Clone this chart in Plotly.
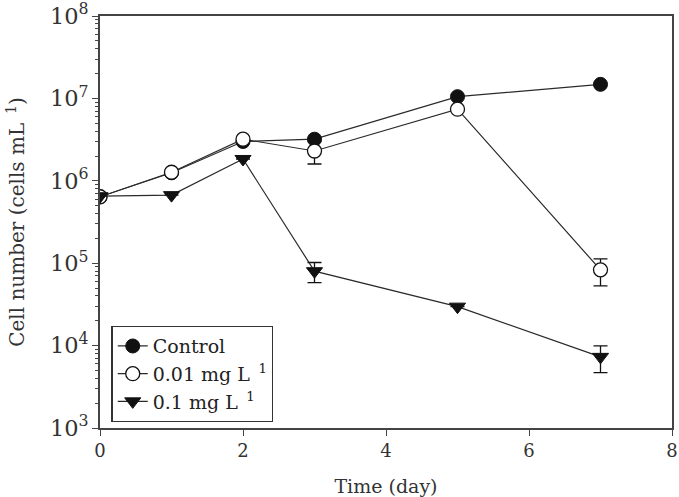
import plotly.graph_objects as go

days = [0, 1, 2, 3, 5, 7]
control = [6.4e5, 1.25e6, 3.0e6, 3.2e6, 1.05e7, 1.48e7]
low_dose = [6.4e5, 1.27e6, 3.2e6, 2.3e6, 7.4e6, 8.3e4]
low_dose_err = [0, 0, 0, 0.7e6, 0, 3.0e4]
high_dose = [6.5e5, 6.7e5, 1.84e6, 8.0e4, 2.97e4, 7.3e3]
high_dose_err = [0, 0, 0, 2.2e4, 0, 2.6e3]

series_names = ["Control", "0.01 mg L<sup>\u00a0\u00a01</sup>", "0.1 mg L<sup>\u00a0\u00a01</sup>"]
x_ticks = [0, 2, 4, 6, 8]

line_col = "#2a2a2a"
font_fam = "DejaVu Serif"
txt_col = "#333333"

fig = go.Figure()
fig.add_trace(go.Scatter(
    x=days, y=control, name=series_names[0], mode="lines+markers",
    line=dict(color=line_col, width=1.2),
    marker=dict(symbol="circle", size=14, color="#111111", line=dict(color="#111111", width=1)),
))
fig.add_trace(go.Scatter(
    x=days, y=low_dose, name=series_names[1], mode="lines+markers",
    line=dict(color=line_col, width=1.2),
    marker=dict(symbol="circle", size=14, color="white", line=dict(color="#111111", width=1.3)),
    error_y=dict(type="data", array=low_dose_err, visible=True, color="#111111", thickness=1.3, width=7),
))
fig.add_trace(go.Scatter(
    x=days, y=high_dose, name=series_names[2], mode="lines+markers",
    line=dict(color=line_col, width=1.2),
    marker=dict(symbol="triangle-down", size=14, color="#111111", line=dict(color="#111111", width=1)),
    error_y=dict(type="data", array=high_dose_err, visible=True, color="#111111", thickness=1.3, width=7),
))

axis_common = dict(
    showline=True, linecolor="#444444", linewidth=1.5, mirror=True,
    ticks="outside", tickcolor="#444444", tickwidth=1.2,
    showgrid=False, zeroline=False, automargin=False,
    ticklabeloverflow="allow",
    tickfont=dict(family=font_fam, size=18, color=txt_col),
)

fig.update_xaxes(
    range=[0, 8], tickvals=x_ticks, ticklen=6,
    title=dict(text="Time (day)", font=dict(family=font_fam, size=19, color=txt_col), standoff=22),
    **axis_common,
)
fig.update_yaxes(
    type="log", range=[3, 8], dtick=1, exponentformat="power", ticklen=6,
    minor=dict(ticks="outside", ticklen=3, dtick="D1", tickcolor="#444444", tickwidth=1),
    title=dict(text="Cell number (cells mL<sup>\u00a0\u00a01</sup>)", font=dict(family=font_fam, size=20, color=txt_col), standoff=20),
    **axis_common,
)

fig.update_layout(
    width=679, height=497,
    margin=dict(l=100, r=7, t=16, b=69),
    paper_bgcolor="white", plot_bgcolor="white",
    showlegend=True,
    legend=dict(
        x=0.02, y=0.248, xanchor="left", yanchor="top",
        bgcolor="white", bordercolor="#333333", borderwidth=1.3,
        font=dict(family=font_fam, size=19, color="#222222"),
        tracegroupgap=0,
    ),
)

fig.write_html("out.html")
